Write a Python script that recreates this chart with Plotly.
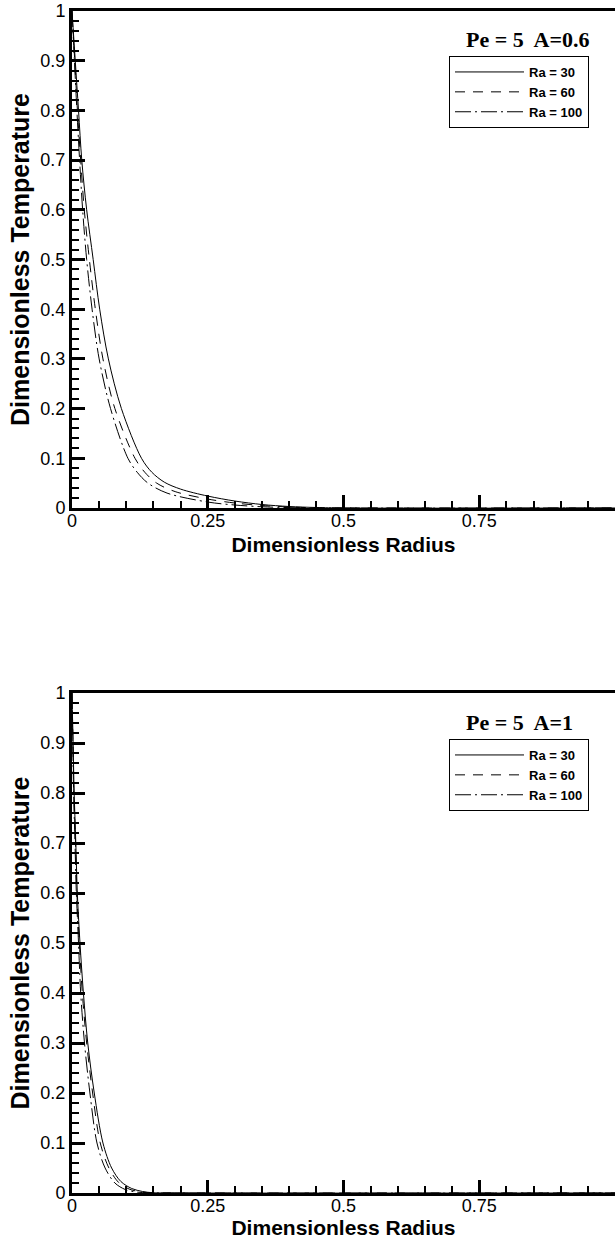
import plotly.graph_objects as go

W, H = 615, 1240

# ---------------- data ----------------
legend_names = ["Ra = 30", "Ra = 60", "Ra = 100"]

# Top panel: Pe = 5, A = 0.6
top_r30_x = [0, 0.006, 0.012, 0.018, 0.027, 0.039, 0.051, 0.067, 0.091, 0.128, 0.147, 0.170, 0.200, 0.250, 0.300, 0.350, 0.400, 0.450, 0.500, 1.0]
top_r30_y = [1.0, 0.90, 0.80, 0.70, 0.60, 0.50, 0.40, 0.30, 0.20, 0.10, 0.072, 0.052, 0.038, 0.024, 0.014, 0.007, 0.003, 0.001, 0.0, 0.0]
top_r60_x = [0, 0.005, 0.010, 0.016, 0.0226, 0.032, 0.043, 0.057, 0.079, 0.116, 0.134, 0.156, 0.190, 0.250, 0.300, 0.350, 0.400, 0.450, 1.0]
top_r60_y = [1.0, 0.90, 0.80, 0.70, 0.60, 0.50, 0.40, 0.30, 0.20, 0.10, 0.072, 0.050, 0.033, 0.018, 0.010, 0.005, 0.002, 0.0005, 0.0]
top_r100_x = [0, 0.0045, 0.009, 0.014, 0.0196, 0.027, 0.037, 0.050, 0.071, 0.103, 0.120, 0.140, 0.175, 0.250, 0.300, 0.350, 0.400, 0.450, 1.0]
top_r100_y = [1.0, 0.90, 0.80, 0.70, 0.60, 0.50, 0.40, 0.30, 0.20, 0.10, 0.072, 0.050, 0.030, 0.012, 0.006, 0.0025, 0.0008, 0.0, 0.0]

# Bottom panel: Pe = 5, A = 1
bot_r30_x = [0, 0.002, 0.004, 0.007, 0.0098, 0.0147, 0.021, 0.029, 0.041, 0.057, 0.073, 0.090, 0.110, 0.130, 0.150, 0.200, 1.0]
bot_r30_y = [1.0, 0.90, 0.80, 0.70, 0.60, 0.50, 0.40, 0.30, 0.20, 0.10, 0.050, 0.023, 0.009, 0.003, 0.0005, 0.0, 0.0]
bot_r60_x = [0, 0.0018, 0.0035, 0.0065, 0.009, 0.0135, 0.019, 0.027, 0.038, 0.052, 0.068, 0.086, 0.105, 0.125, 0.145, 0.200, 1.0]
bot_r60_y = [1.0, 0.90, 0.80, 0.70, 0.60, 0.50, 0.40, 0.30, 0.20, 0.10, 0.050, 0.021, 0.008, 0.0025, 0.0005, 0.0, 0.0]
bot_r100_x = [0, 0.0015, 0.003, 0.0055, 0.008, 0.012, 0.016, 0.023, 0.033, 0.046, 0.061, 0.079, 0.098, 0.118, 0.140, 0.200, 1.0]
bot_r100_y = [1.0, 0.90, 0.80, 0.70, 0.60, 0.50, 0.40, 0.30, 0.20, 0.10, 0.050, 0.020, 0.007, 0.002, 0.0005, 0.0, 0.0]

panel_titles = ["Pe = 5\u00a0 A=0.6", "Pe = 5\u00a0 A=1"]
x_title = "Dimensionless Radius"
y_title = "Dimensionless Temperature"

# ---------------- styling ----------------
dashes = ["solid", "10px,8px", "16px,4px,2px,4px"]
SANS = "Liberation Sans, Arial, sans-serif"
SERIF = "Liberation Serif, Times New Roman, serif"

fig = go.Figure()

top_sets = [(top_r30_x, top_r30_y), (top_r60_x, top_r60_y), (top_r100_x, top_r100_y)]
bot_sets = [(bot_r30_x, bot_r30_y), (bot_r60_x, bot_r60_y), (bot_r100_x, bot_r100_y)]

for i, (xs, ys) in enumerate(top_sets):
    fig.add_trace(go.Scatter(x=xs, y=ys, mode="lines", name=legend_names[i],
                             line=dict(color="black", width=1, dash=dashes[i],
                                       shape="spline", smoothing=0.9),
                             xaxis="x", yaxis="y", legend="legend"))
for i, (xs, ys) in enumerate(bot_sets):
    fig.add_trace(go.Scatter(x=xs, y=ys, mode="lines", name=legend_names[i],
                             line=dict(color="black", width=1, dash=dashes[i],
                                       shape="spline", smoothing=0.9),
                             xaxis="x2", yaxis="y2", legend="legend2"))

def py(px):
    return 1 - px / H

x_dom = [72 / W, 1.0]
top_dom = [py(508), py(11)]
bot_dom = [py(1193), py(693)]

def xaxis_cfg(anchor, standoff):
    return dict(domain=x_dom, anchor=anchor, range=[0, 1], dtick=0.25, tick0=0,
                showline=True, linecolor="black", linewidth=3, mirror=True,
                ticks="inside", ticklen=13, tickwidth=3, tickcolor="black",
                minor=dict(ticks="inside", ticklen=7, tickwidth=1.5, dtick=0.05, tickcolor="black"),
                showgrid=False, zeroline=False, ticklabelstandoff=-6,
                tickfont=dict(family=SANS, size=18, color="black"),
                title=dict(text=x_title, standoff=standoff,
                           font=dict(family=SANS, size=21, color="black", weight="bold")))

def yaxis_cfg(anchor, dom):
    return dict(domain=dom, anchor=anchor, range=[0, 1], dtick=0.1, tick0=0,
                showline=True, linecolor="black", linewidth=3, mirror=False,
                ticks="inside", ticklen=13, tickwidth=3, tickcolor="black",
                minor=dict(ticks="inside", ticklen=7, tickwidth=1.5, dtick=0.02, tickcolor="black"),
                showgrid=False, zeroline=False,
                tickfont=dict(family=SANS, size=18, color="black"),
                title=dict(text=y_title, standoff=4,
                           font=dict(family=SANS, size=25, color="black", weight="bold")))

legend_style = dict(xanchor="left", yanchor="top", bgcolor="white",
                    bordercolor="black", borderwidth=1,
                    font=dict(family=SANS, size=13, color="black", weight="bold"),
                    itemwidth=69, tracegroupgap=0)

fig.update_layout(
    width=W, height=H,
    margin=dict(l=0, r=0, t=0, b=0, autoexpand=False),
    paper_bgcolor="white", plot_bgcolor="white",
    xaxis=xaxis_cfg("y", 8), yaxis=yaxis_cfg("x", top_dom),
    xaxis2=xaxis_cfg("y2", 2), yaxis2=yaxis_cfg("x2", bot_dom),
    legend=dict(x=449 / W, y=py(56), **legend_style),
    legend2=dict(x=449 / W, y=py(739), **legend_style),
    annotations=[
        dict(text=panel_titles[0], xref="paper", yref="paper", x=527 / W, y=py(40),
             showarrow=False, xanchor="center", yanchor="middle",
             font=dict(family=SERIF, size=22, color="black", weight="bold")),
        dict(text=panel_titles[1], xref="paper", yref="paper", x=519 / W, y=py(723),
             showarrow=False, xanchor="center", yanchor="middle",
             font=dict(family=SERIF, size=22, color="black", weight="bold")),
    ],
)

fig.write_html("out.html")
